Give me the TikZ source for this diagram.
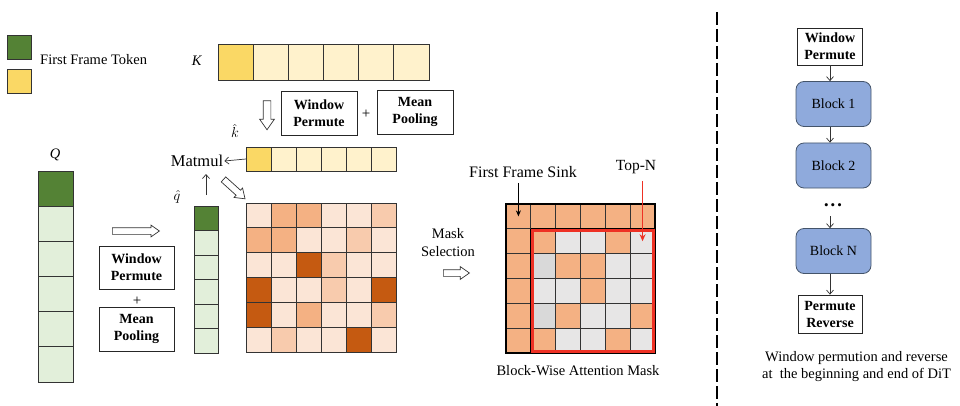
\documentclass[tikz,border=0pt]{standalone}
\usepackage{fontspec}
\setmainfont{Liberation Serif}
\usetikzlibrary{shapes.arrows,arrows.meta,calc}
\definecolor{dgreen}{HTML}{548235}
\definecolor{lgreen}{HTML}{E2EFDA}
\definecolor{gold}{HTML}{FAD865}
\definecolor{lyellow}{HTML}{FFF2CC}
\definecolor{cL}{HTML}{FBE5D6}
\definecolor{cM}{HTML}{F4B183}
\definecolor{cP}{HTML}{F8CBAD}
\definecolor{cD}{HTML}{C55A11}
\definecolor{cG}{HTML}{E7E6E6}
\definecolor{cH}{HTML}{D9D9D9}
\definecolor{blk}{HTML}{8FAADC}
\definecolor{blkline}{HTML}{44546A}
\definecolor{redm}{HTML}{EE3124}
\definecolor{gridc}{HTML}{333333}
\tikzset{
  cell/.style={draw=gridc, line width=0.9pt, inner sep=0pt, outer sep=0pt},
  opbox/.style={draw=black!85, line width=0.8pt, align=center, inner sep=0pt,
    font=\bfseries\fontsize{14}{17}\selectfont},
  blockbox/.style={draw=blkline, fill=blk, rounded corners=8pt, line width=0.8pt,
    minimum width=75pt, minimum height=45pt, inner sep=0pt, font=\fontsize{14}{16}\selectfont},
  hollow/.style={single arrow, draw=black!80, fill=white, line width=0.7pt, inner sep=0pt,
    single arrow tip angle=70},
  thin/.style={draw=black!80, line width=0.7pt, -{Straight Barb[length=4pt,width=7pt]}},
  lbl/.style={font=\fontsize{14.5}{18}\selectfont, inner sep=0pt}
}
\begin{document}
\begin{tikzpicture}[x=1pt,y=-1pt]
\useasboundingbox (0,0) rectangle (960,406);

% legend
\node[cell, fill=dgreen, minimum size=24pt] (lg) at (19,47) {};
\node[cell, fill=gold, minimum size=24pt] (ly) at (19,81) {};
\node[anchor=west, font=\fontsize{14.5}{16}\selectfont, inner sep=0pt] (lt) at (40,60) {First Frame Token};

% K row
\node[lbl] (Klab) at (197,61) {\textit{K}};
\foreach \i in {0,...,5}{
  \node[cell, minimum width=35.17pt, minimum height=36pt, fill=lyellow] (k\i) at ({235.6+35.17*\i},62) {};
}
\node[cell, minimum width=35.17pt, minimum height=36pt, fill=gold] at (k0) {};

% top operation
\node[hollow, minimum height=29pt, single arrow head extend=3.5pt, rotate=-90] (dk) at (267,112.5) {\rule{0pt}{7pt}};
\node[opbox, minimum width=76pt, minimum height=44pt] (wp1) at (319,113) {Window\\Permute};
\node[lbl, font=\fontsize{15}{18}\selectfont] (pl1) at (366,114) {+};
\node[opbox, minimum width=76pt, minimum height=44pt] (mp1) at (415,112) {Mean\\Pooling};

% k hat row
\node[lbl] (khlab) at (235,131) {$\hat{k}$};
\foreach \i in {0,...,5}{
  \node[cell, minimum width=25pt, minimum height=24pt, fill=lyellow] (kh\i) at ({258.5+25*\i},159) {};
}
\node[cell, minimum width=25pt, minimum height=24pt, fill=gold] at (kh0) {};

% Matmul
\node[font=\fontsize{16.5}{18}\selectfont, inner sep=1pt] (mm) at (197,161) {Matmul};
\draw[thin] (kh0.west) -- (mm.east);

% Q column
\node[lbl] (Qlab) at (55,155) {\textit{Q}};
\foreach \i in {0,...,5}{
  \node[cell, minimum width=35pt, minimum height=35.17pt, fill=lgreen] (q\i) at (55.5,{188.6+35.17*\i}) {};
}
\node[cell, minimum width=35pt, minimum height=35.17pt, fill=dgreen] at (q0) {};

% left operation
\node[hollow, minimum height=47pt, single arrow head extend=2.5pt] (rq) at (133.5,231) {\rule{0pt}{6pt}};
\node[opbox, minimum width=75pt, minimum height=43pt] (wp2) at (136.5,267.5) {Window\\Permute};
\node[lbl, font=\fontsize{15}{18}\selectfont] (pl2) at (137,301) {+};
\node[opbox, minimum width=75pt, minimum height=44pt] (mp2) at (136.5,329) {Mean\\Pooling};

% q hat column
\node[lbl] (qhlab) at (177,197) {$\hat{q}$};
\foreach \i in {0,...,5}{
  \node[cell, minimum width=24pt, minimum height=24.5pt, fill=lgreen] (qh\i) at (206,{218.25+24.5*\i}) {};
}
\node[cell, minimum width=24pt, minimum height=24.5pt, fill=dgreen] at (qh0) {};
\coordinate (qup) at ($(qh0.north)+(0,-11)$);
\draw[thin] (qup) -- ($(qh0.north |- mm.south)+(0,6)$);

% diagonal hollow arrow
\node[hollow, minimum height=29pt, single arrow head extend=3pt, rotate=-42] (dg) at (232.5,187.5) {\rule{0pt}{6pt}};

% attention matrix
\foreach \rowlist [count=\r from 0] in {{L,M,M,L,L,P},{M,M,L,L,P,L},{L,L,D,P,L,L},{D,L,L,P,L,D},{D,L,M,L,L,P},{L,P,L,L,D,L}}{
  \foreach \col [count=\c from 0] in \rowlist {
    \node[cell, minimum width=25pt, minimum height=24.85pt, fill=c\col] (am-\r-\c) at ({258.5+25*\c},{215.4+24.85*\r}) {};
  }
}

% mask selection
\node[lbl, align=center] (ms) at (448,243) {Mask\\Selection};
\node[hollow, minimum height=26pt, single arrow head extend=3pt] (ma) at (454,273) {\rule{0pt}{6pt}};

% mask matrix
\foreach \rowlist [count=\r from 0] in {{M,M,M,M,M,M},{M,M,G,G,M,G},{M,H,M,M,G,G},{M,G,G,M,G,G},{M,H,M,G,G,M},{M,M,G,G,M,G}}{
  \foreach \col [count=\c from 0] in \rowlist {
    \node[cell, minimum width=24.83pt, minimum height=24.83pt, fill=c\col] (mk-\r-\c) at ({518.4+24.83*\c},{216.4+24.83*\r}) {};
  }
}
\draw[black, line width=1.8pt] (mk-0-0.north west) rectangle (mk-5-5.south east);
\draw[black, line width=1.6pt] (mk-1-0.north east) -- (mk-5-0.south east);
\draw[black, line width=1.6pt] (mk-0-1.south west) -- (mk-0-5.south east);
\draw[redm, line width=3pt] ($(mk-1-1.north west)+(2,1.5)$) rectangle ($(mk-5-5.south east)+(-1.2,-1.2)$);

\node[font=\fontsize{16}{18}\selectfont, inner sep=0pt] (ffs) at (523,172) {First Frame Sink};
\draw[black, line width=0.9pt, -{Stealth[length=6pt,width=5pt]}] (ffs.south -| mk-0-0) ++(0,5) -- (mk-0-0.center);
\node[font=\fontsize{15.5}{18}\selectfont, inner sep=0pt] (topn) at (636,167) {Top-N};
\draw[redm, line width=1.4pt, -{Stealth[length=7pt,width=6pt]}] (topn.south -| mk-1-5) ++(0,7) -- (mk-1-5.center);

\node[lbl] (bw) at (578,371) {Block-Wise Attention Mask};

% divider
\draw[black, line width=1.8pt, dash pattern=on 13pt off 4pt] (717,12) -- (717,406);

% right column
\node[opbox, minimum width=65pt, minimum height=37pt] (wp3) at (830,46.5) {Window\\Permute};
\node[blockbox] (b1) at (833.5,104) {Block 1};
\node[blockbox] (b2) at (833.5,165.5) {Block 2};
\node[font=\fontsize{13}{16}\selectfont, inner sep=0pt] (dots) at (833,207) {\textbullet\,\textbullet\,\textbullet};
\node[blockbox] (bn) at (833.5,251) {Block N};
\node[opbox, minimum width=64pt, minimum height=38pt] (pr) at (830,314) {Permute\\Reverse};
\draw[thin] (wp3.south) -- (wp3.south |- b1.north);
\draw[thin] (b1.south -| wp3.south) -- (b2.north -| wp3.south);
\draw[thin] ($(dots.south -| wp3.south)+(0,6)$) -- (bn.north -| wp3.south);
\draw[thin] (bn.south -| wp3.south) -- (pr.north);
\node[lbl, align=center, font=\fontsize{14.5}{17}\selectfont] (cap) at (856.5,366.5) {Window permution and reverse\\at~ the beginning and end of DiT};
\end{tikzpicture}
\end{document}
